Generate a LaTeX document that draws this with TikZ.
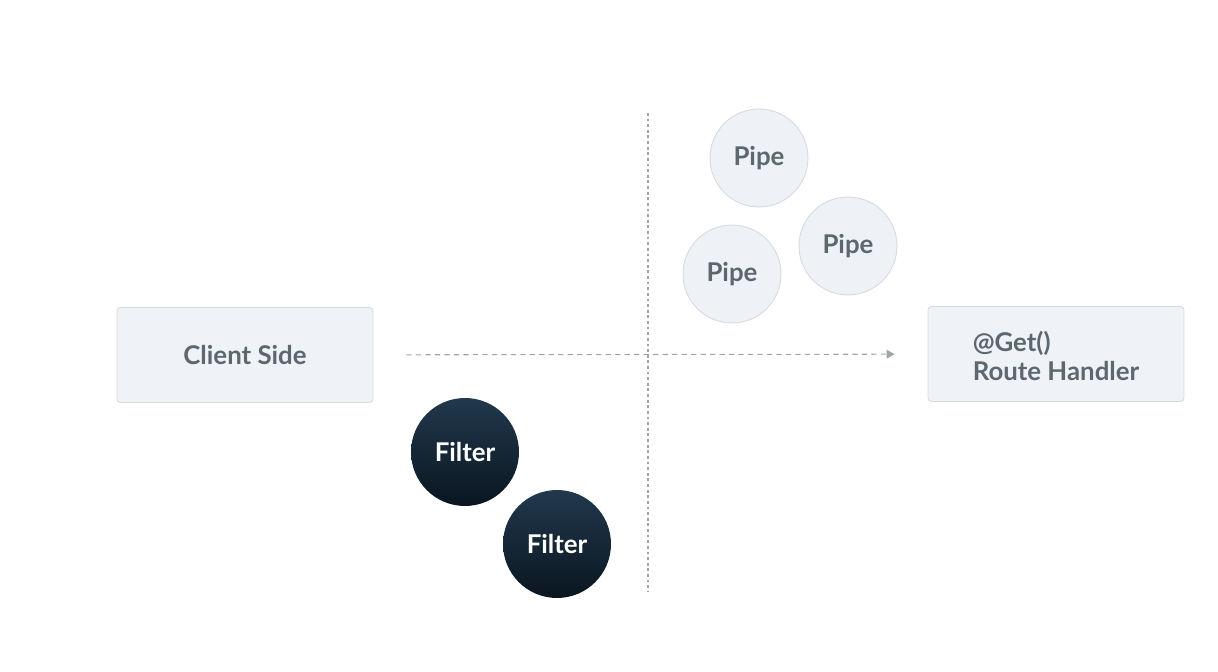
\documentclass[tikz,border=0pt]{standalone}
\usepackage{fontspec}
\setmainfont{Lato}
\usepackage{tikz}
\usetikzlibrary{arrows.meta,positioning}

\definecolor{boxfill}{RGB}{239,243,248}
\definecolor{boxline}{RGB}{212,218,224}
\definecolor{pipefill}{RGB}{238,242,247}
\definecolor{labelgray}{RGB}{93,103,112}
\definecolor{filtertop}{RGB}{33,56,77}
\definecolor{filterbot}{RGB}{10,22,32}
\definecolor{dashgray}{RGB}{160,165,170}

\begin{document}
\begin{tikzpicture}[x=0.02cm,y=-0.02cm,
  every node/.style={font=\bfseries\fontsize{14.7}{17}\selectfont},
  endbox/.style={draw=boxline, fill=boxfill, rounded corners=2pt,
                 minimum width=5.12cm, minimum height=1.9cm,
                 text=labelgray, line width=0.5pt},
  pipe/.style={circle, draw=boxline, fill=pipefill, minimum size=1.96cm,
               inner sep=0pt, text=labelgray, line width=0.5pt},
  filter/.style={circle, top color=filtertop, bottom color=filterbot,
                 minimum size=2.16cm, inner sep=0pt, text=white},
  ]

  \useasboundingbox (0,0) rectangle (1218,672);

  % separator
  \coordinate (sepTop) at (648,113);
  \coordinate (sepBot) at (648,592);
  \draw[dashgray, line width=0.6pt, dash pattern=on 1.6pt off 1.6pt] (sepTop) -- (sepBot);

  % end points
  \node[endbox] (client) at (245,355) {Client Side};
  \node[endbox] (route) at (1056,354) {};
  \node[text=labelgray, align=left] (routetxt) at (1056,356) {@Get()\\Route Handler};

  % request flow
  \draw[dashgray, line width=0.6pt, dash pattern=on 3pt off 2.4pt,
        shorten <=0.66cm, shorten >=0.66cm,
        -{Triangle[length=4.5pt,width=5pt]}] (client) -- (route);

  % pipes
  \node[pipe] (pipeA) at (759,158) {Pipe};
  \node[pipe] (pipeB) at (848,246) {Pipe};
  \node[pipe] (pipeC) at (732,274) {Pipe};

  % filters
  \node[filter] (filterA) at (465,452) {Filter};
  \node[filter] (filterB) at (557,544) {Filter};

\end{tikzpicture}
\end{document}
